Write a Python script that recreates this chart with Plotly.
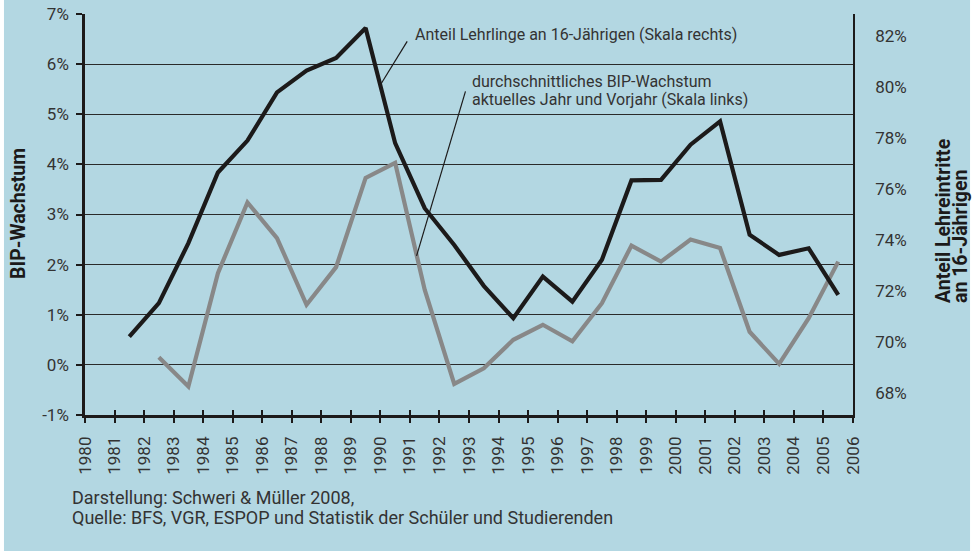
import plotly.graph_objects as go

# ---- data ----
years_lehr = list(range(1981, 2006))
lehrlinge_anteil = [70.21, 71.52, 73.87, 76.64, 77.89, 79.78, 80.63, 81.13, 82.30, 77.79,
                    75.24, 73.80, 72.20, 70.93, 72.56, 71.58, 73.22, 76.33, 76.35, 77.73,
                    78.64, 74.20, 73.41, 73.67, 71.84]

years_bip = list(range(1982, 2006))
bip_wachstum = [0.15, -0.43, 1.83, 3.24, 2.53, 1.20, 1.95, 3.73, 4.03, 1.50,
                -0.38, -0.07, 0.50, 0.80, 0.47, 1.23, 2.38, 2.06, 2.50, 2.33,
                0.66, 0.02, 0.93, 2.06]

x_ticks = list(range(1980, 2007))
left_ticks = list(range(-1, 8))
left_labels = [f"{v}%" for v in left_ticks]
right_ticks = list(range(68, 83, 2))
right_labels = [f"{v}%" for v in right_ticks]

# values are centred in the middle of each year
x_lehr = [y + 0.5 for y in years_lehr]
x_bip = [y + 0.5 for y in years_bip]

BG = "#b3d7e2"
TXT = "#333333"
DARK = "#1c1a1a"
FONT = "Roboto"
TICK_SIZE = 17

fig = go.Figure()

fig.add_trace(go.Scatter(x=x_lehr, y=lehrlinge_anteil, mode="lines", yaxis="y2",
                         line=dict(color=DARK, width=4.2), showlegend=False,
                         hoverinfo="skip"))
fig.add_trace(go.Scatter(x=x_bip, y=bip_wachstum, mode="lines",
                         line=dict(color="#888888", width=4.2), showlegend=False,
                         hoverinfo="skip"))
# invisible helper on overlay x-axis (for inward tick marks)
fig.add_trace(go.Scatter(x=x_bip, y=bip_wachstum, mode="lines", xaxis="x2",
                         line=dict(color="rgba(0,0,0,0)", width=0), showlegend=False,
                         hoverinfo="skip"))

fig.update_layout(
    width=976, height=551,
    margin=dict(l=85, r=123, t=14, b=136, pad=0),
    paper_bgcolor=BG, plot_bgcolor=BG,
    font=dict(family=FONT, color=TXT, size=16),
    xaxis=dict(range=[1980, 2006], tickvals=x_ticks, tickangle=-90, automargin=False,
               showgrid=False, zeroline=False, showline=True, linecolor=DARK,
               linewidth=2.5, ticks="outside", ticklen=5, tickwidth=2,
               tickcolor=DARK, tickfont=dict(size=TICK_SIZE, color=TXT, family=FONT),
               ticklabelstandoff=7),
    xaxis2=dict(range=[1980, 2006], tickvals=x_ticks, overlaying="x", anchor="y",
                automargin=False,
                showgrid=False, zeroline=False, showline=False, showticklabels=False,
                ticks="inside", ticklen=5, tickwidth=2, tickcolor=DARK, side="bottom"),
    yaxis=dict(range=[-1, 7], tickvals=left_ticks, ticktext=left_labels, automargin=False,
               showgrid=True, gridcolor="#2a2a2a", gridwidth=1.3, zeroline=False,
               showline=True, linecolor=DARK, linewidth=2.5,
               ticks="outside", ticklen=6, tickwidth=2, tickcolor=DARK,
               tickfont=dict(size=TICK_SIZE, color=TXT, family=FONT), ticklabelstandoff=4),
    yaxis2=dict(range=[67.137, 82.851], tickvals=right_ticks, ticktext=right_labels,
                automargin=False,
                overlaying="y", side="right", showgrid=False, zeroline=False,
                showline=True, linecolor=DARK, linewidth=1.6, ticks="",
                tickfont=dict(size=TICK_SIZE, color=TXT, family=FONT), ticklabelstandoff=17),
)

# white margins left/right of the blue panel
fig.add_shape(type="rect", xref="paper", yref="paper", x0=-0.12, x1=-0.1055,
              y0=-0.4, y1=1.05, fillcolor="white", line=dict(width=0), layer="below")
fig.add_shape(type="rect", xref="paper", yref="paper", x0=1.1524, x1=1.17,
              y0=-0.4, y1=1.05, fillcolor="white", line=dict(width=0), layer="below")

# leader lines
fig.add_shape(type="line", xref="x", yref="y", x0=1990.907, y0=6.453, x1=1990.04, y1=5.623,
              line=dict(color=DARK, width=1.2))
fig.add_shape(type="line", xref="x", yref="y", x0=1992.88, y0=5.455, x1=1991.225, y1=2.176,
              line=dict(color=DARK, width=1.2))

ann_font = dict(size=16, color=TXT, family=FONT)
fig.add_annotation(x=1991.11, y=6.587, xref="x", yref="y", xanchor="left", yanchor="middle",
                   text="Anteil Lehrlinge an 16-Jährigen (Skala rechts)", showarrow=False,
                   font=ann_font)
fig.add_annotation(x=1993.03, y=5.655, xref="x", yref="y", xanchor="left", yanchor="middle",
                   text="durchschnittliches BIP-Wachstum", showarrow=False, font=ann_font)
fig.add_annotation(x=1993.03, y=5.289, xref="x", yref="y", xanchor="left", yanchor="middle",
                   text="aktuelles Jahr und Vorjahr (Skala links)", showarrow=False,
                   font=ann_font)

# axis titles
title_font = dict(size=19.5, color=DARK, family=FONT)
fig.add_annotation(x=-0.0866, y=0.5025, xref="paper", yref="paper", textangle=-90,
                   xanchor="center", yanchor="middle",
                   text="<b>BIP-Wachstum</b>", showarrow=False, font=title_font)
fig.add_annotation(x=1.1179, y=0.2743, xref="paper", yref="paper", textangle=-90,
                   xanchor="center", yanchor="bottom", text="<b>Anteil Lehreintritte</b>",
                   showarrow=False, font=title_font)
fig.add_annotation(x=1.1400, y=0.2743, xref="paper", yref="paper", textangle=-90,
                   xanchor="center", yanchor="bottom", text="<b>an 16-Jährigen</b>",
                   showarrow=False, font=title_font)

# source note
foot_font = dict(size=18, color=TXT, family=FONT)
fig.add_annotation(x=-0.0195, y=-0.2045, xref="paper", yref="paper", xanchor="left",
                   yanchor="middle", text="Darstellung: Schweri & Müller 2008,",
                   showarrow=False, font=foot_font)
fig.add_annotation(x=-0.0195, y=-0.2556, xref="paper", yref="paper", xanchor="left",
                   yanchor="middle",
                   text="Quelle: BFS, VGR, ESPOP und Statistik der Schüler und Studierenden",
                   showarrow=False, font=foot_font)

fig.write_html("out.html", config={"displayModeBar": False},
               post_script="document.body.style.margin='0';")
